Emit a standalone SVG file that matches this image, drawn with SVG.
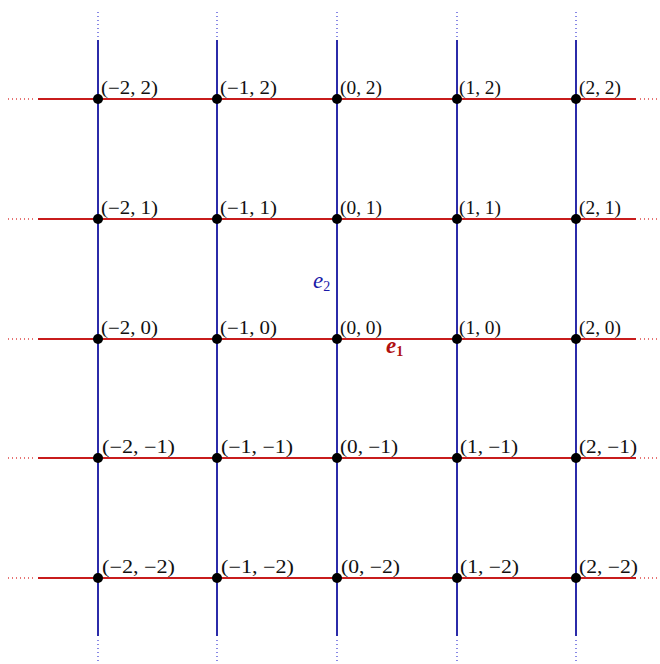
<svg xmlns="http://www.w3.org/2000/svg" width="660" height="664" viewBox="0 0 660 664">
<style>
.v{stroke:#1414a0;stroke-width:1.8;fill:none}
.vd{stroke:#4a4ad8;stroke-width:1.3;stroke-dasharray:1 3;fill:none}
.h{stroke:#c81c1c;stroke-width:1.8;fill:none}
.hd{stroke:#e04848;stroke-width:1.3;stroke-dasharray:1 3;fill:none}
.pt{fill:#000}
.lb{font-family:"Liberation Serif","DejaVu Serif",serif;font-size:18px;fill:#111}
.e2{font-family:"Liberation Serif","DejaVu Serif",serif;font-style:italic;font-size:23px;fill:#1a1aa8}
.e1{font-family:"Liberation Serif","DejaVu Serif",serif;font-style:italic;font-weight:bold;font-size:23px;fill:#b01010}
.sub{font-size:14px;font-style:normal}
</style>
<rect width="660" height="664" fill="#fff"/>
<g id="connectors">
<g id="verticals">
<line class="vd" x1="98" y1="12" x2="98" y2="38"/><line class="v" x1="98" y1="40" x2="98" y2="636"/><line class="vd" x1="98" y1="640" x2="98" y2="662"/>
<line class="vd" x1="217" y1="12" x2="217" y2="38"/><line class="v" x1="217" y1="40" x2="217" y2="636"/><line class="vd" x1="217" y1="640" x2="217" y2="662"/>
<line class="vd" x1="337" y1="12" x2="337" y2="38"/><line class="v" x1="337" y1="40" x2="337" y2="636"/><line class="vd" x1="337" y1="640" x2="337" y2="662"/>
<line class="vd" x1="457" y1="12" x2="457" y2="38"/><line class="v" x1="457" y1="40" x2="457" y2="636"/><line class="vd" x1="457" y1="640" x2="457" y2="662"/>
<line class="vd" x1="576" y1="12" x2="576" y2="38"/><line class="v" x1="576" y1="40" x2="576" y2="636"/><line class="vd" x1="576" y1="640" x2="576" y2="662"/>
</g>
<g id="horizontals">
<line class="hd" x1="8" y1="99" x2="36" y2="99"/><line class="h" x1="38" y1="99" x2="636" y2="99"/><line class="hd" x1="640" y1="99" x2="660" y2="99"/>
<line class="hd" x1="8" y1="219" x2="36" y2="219"/><line class="h" x1="38" y1="219" x2="636" y2="219"/><line class="hd" x1="640" y1="219" x2="660" y2="219"/>
<line class="hd" x1="8" y1="339" x2="36" y2="339"/><line class="h" x1="38" y1="339" x2="636" y2="339"/><line class="hd" x1="640" y1="339" x2="660" y2="339"/>
<line class="hd" x1="8" y1="458" x2="36" y2="458"/><line class="h" x1="38" y1="458" x2="636" y2="458"/><line class="hd" x1="640" y1="458" x2="660" y2="458"/>
<line class="hd" x1="8" y1="578" x2="36" y2="578"/><line class="h" x1="38" y1="578" x2="636" y2="578"/><line class="hd" x1="640" y1="578" x2="660" y2="578"/>
</g>
</g>
<g id="axis-labels">
<text class="e2" x="313" y="288">e<tspan class="sub" dy="3">2</tspan></text>
<text class="e1" x="386" y="353">e<tspan class="sub" dy="3" font-weight="bold">1</tspan></text>
</g>
<g id="p-2_2"><circle class="pt" cx="98" cy="99" r="5"/><text class="lb" x="101" y="94" textLength="57" lengthAdjust="spacingAndGlyphs">(−2, 2)</text></g>
<g id="p-1_2"><circle class="pt" cx="217" cy="99" r="5"/><text class="lb" x="220" y="94" textLength="57" lengthAdjust="spacingAndGlyphs">(−1, 2)</text></g>
<g id="p0_2"><circle class="pt" cx="337" cy="99" r="5"/><text class="lb" x="340" y="94" textLength="42" lengthAdjust="spacingAndGlyphs">(0, 2)</text></g>
<g id="p1_2"><circle class="pt" cx="457" cy="99" r="5"/><text class="lb" x="459" y="94" textLength="42" lengthAdjust="spacingAndGlyphs">(1, 2)</text></g>
<g id="p2_2"><circle class="pt" cx="576" cy="99" r="5"/><text class="lb" x="579" y="94" textLength="42" lengthAdjust="spacingAndGlyphs">(2, 2)</text></g>

<g id="p-2_1"><circle class="pt" cx="98" cy="219" r="5"/><text class="lb" x="101" y="214" textLength="57" lengthAdjust="spacingAndGlyphs">(−2, 1)</text></g>
<g id="p-1_1"><circle class="pt" cx="217" cy="219" r="5"/><text class="lb" x="220" y="214" textLength="57" lengthAdjust="spacingAndGlyphs">(−1, 1)</text></g>
<g id="p0_1"><circle class="pt" cx="337" cy="219" r="5"/><text class="lb" x="340" y="214" textLength="42" lengthAdjust="spacingAndGlyphs">(0, 1)</text></g>
<g id="p1_1"><circle class="pt" cx="457" cy="219" r="5"/><text class="lb" x="459" y="214" textLength="42" lengthAdjust="spacingAndGlyphs">(1, 1)</text></g>
<g id="p2_1"><circle class="pt" cx="576" cy="219" r="5"/><text class="lb" x="579" y="214" textLength="42" lengthAdjust="spacingAndGlyphs">(2, 1)</text></g>

<g id="p-2_0"><circle class="pt" cx="98" cy="339" r="5"/><text class="lb" x="101" y="334" textLength="57" lengthAdjust="spacingAndGlyphs">(−2, 0)</text></g>
<g id="p-1_0"><circle class="pt" cx="217" cy="339" r="5"/><text class="lb" x="220" y="334" textLength="57" lengthAdjust="spacingAndGlyphs">(−1, 0)</text></g>
<g id="p0_0"><circle class="pt" cx="337" cy="339" r="5"/><text class="lb" x="340" y="334" textLength="42" lengthAdjust="spacingAndGlyphs">(0, 0)</text></g>
<g id="p1_0"><circle class="pt" cx="457" cy="339" r="5"/><text class="lb" x="459" y="334" textLength="42" lengthAdjust="spacingAndGlyphs">(1, 0)</text></g>
<g id="p2_0"><circle class="pt" cx="576" cy="339" r="5"/><text class="lb" x="579" y="334" textLength="42" lengthAdjust="spacingAndGlyphs">(2, 0)</text></g>

<g id="p-2_-1"><circle class="pt" cx="98" cy="458" r="5"/><text class="lb" x="102" y="453" textLength="73" lengthAdjust="spacingAndGlyphs">(−2, −1)</text></g>
<g id="p-1_-1"><circle class="pt" cx="217" cy="458" r="5"/><text class="lb" x="221" y="453" textLength="72" lengthAdjust="spacingAndGlyphs">(−1, −1)</text></g>
<g id="p0_-1"><circle class="pt" cx="337" cy="458" r="5"/><text class="lb" x="340" y="453" textLength="58" lengthAdjust="spacingAndGlyphs">(0, −1)</text></g>
<g id="p1_-1"><circle class="pt" cx="457" cy="458" r="5"/><text class="lb" x="460" y="453" textLength="58" lengthAdjust="spacingAndGlyphs">(1, −1)</text></g>
<g id="p2_-1"><circle class="pt" cx="576" cy="458" r="5"/><text class="lb" x="579" y="453" textLength="58" lengthAdjust="spacingAndGlyphs">(2, −1)</text></g>

<g id="p-2_-2"><circle class="pt" cx="98" cy="578" r="5"/><text class="lb" x="102" y="573" textLength="73" lengthAdjust="spacingAndGlyphs">(−2, −2)</text></g>
<g id="p-1_-2"><circle class="pt" cx="217" cy="578" r="5"/><text class="lb" x="221" y="573" textLength="73" lengthAdjust="spacingAndGlyphs">(−1, −2)</text></g>
<g id="p0_-2"><circle class="pt" cx="337" cy="578" r="5"/><text class="lb" x="341" y="573" textLength="59" lengthAdjust="spacingAndGlyphs">(0, −2)</text></g>
<g id="p1_-2"><circle class="pt" cx="457" cy="578" r="5"/><text class="lb" x="460" y="573" textLength="59" lengthAdjust="spacingAndGlyphs">(1, −2)</text></g>
<g id="p2_-2"><circle class="pt" cx="576" cy="578" r="5"/><text class="lb" x="579" y="573" textLength="59" lengthAdjust="spacingAndGlyphs">(2, −2)</text></g>
</svg>
